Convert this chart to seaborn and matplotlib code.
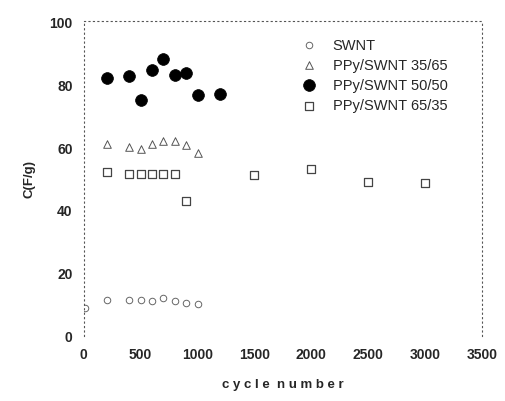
import pandas as pd
import matplotlib.pyplot as plt
import seaborn as sns

# ----------------------------
# Data
# ----------------------------
swnt_cycle = [10, 200, 400, 500, 600, 700, 800, 900, 1000]
swnt_cap = [9, 11.5, 11.5, 11.5, 11, 12, 11, 10.5, 10]

p3565_cycle = [200, 400, 500, 600, 700, 800, 900, 1000]
p3565_cap = [61, 60, 59.5, 61, 62, 62, 60.5, 58]

p5050_cycle = [200, 400, 500, 600, 700, 800, 900, 1000, 1200]
p5050_cap = [82, 82.5, 75, 84.5, 88, 83, 83.5, 76.5, 77]

p6535_cycle = [200, 400, 500, 600, 700, 800, 900, 1500, 2000, 2500, 3000]
p6535_cap = [52, 51.5, 51.5, 51.5, 51.5, 51.5, 43, 51, 53, 49, 48.5]

series = ["SWNT", "PPy/SWNT 35/65", "PPy/SWNT 50/50", "PPy/SWNT 65/35"]
x_ticks = [0, 500, 1000, 1500, 2000, 2500, 3000, 3500]
y_ticks = [0, 20, 40, 60, 80, 100]

frames = []
for name, xs, ys in zip(series,
                        [swnt_cycle, p3565_cycle, p5050_cycle, p6535_cycle],
                        [swnt_cap, p3565_cap, p5050_cap, p6535_cap]):
    frames.append(pd.DataFrame({"cycle": xs, "C": ys, "sample": name}))
df = pd.concat(frames, ignore_index=True)

sns.set_style("white")
plt.rcParams["font.family"] = ["Liberation Sans", "DejaVu Sans"]

fig, ax = plt.subplots(figsize=(5.05, 4.02), dpi=100)
fig.subplots_adjust(left=0.166, right=0.954, top=0.945, bottom=0.162)

styles = {
    "SWNT": dict(marker="o", s=22, facecolor="white", edgecolor="#666666", linewidth=0.7),
    "PPy/SWNT 35/65": dict(marker="^", s=30, facecolor="white", edgecolor="#555555", linewidth=0.7),
    "PPy/SWNT 50/50": dict(marker="o", s=72, facecolor="black", edgecolor="black", linewidth=0.5),
    "PPy/SWNT 65/35": dict(marker="s", s=30, facecolor="white", edgecolor="#444444", linewidth=0.9),
}

for name in series:
    sub = df[df["sample"] == name]
    sns.scatterplot(data=sub, x="cycle", y="C", ax=ax, label=name, **styles[name])

ax.set_xlim(0, 3500)
ax.set_ylim(0, 100)
ax.set_xticks(x_ticks)
ax.set_yticks(y_ticks)
ax.tick_params(length=0, labelsize=10, pad=8)
for lab in ax.get_xticklabels() + ax.get_yticklabels():
    lab.set_fontweight("bold")

ax.set_xlabel("c y c l e  n u m b e r", fontsize=9.5, fontweight="bold", labelpad=12)
ax.set_ylabel("C(F/g)", fontsize=9.5, fontweight="bold", labelpad=10)

for side in ["left", "right", "top"]:
    ax.spines[side].set_linestyle((0, (1, 3)))
    ax.spines[side].set_color("#555555")
    ax.spines[side].set_linewidth(0.8)
ax.spines["bottom"].set_visible(False)

leg = ax.legend(loc="upper left", bbox_to_anchor=(0.515, 0.965), frameon=False,
                fontsize=10.5, handletextpad=0.6, labelspacing=0.42, borderaxespad=0.0)

plt.savefig("out.png", dpi=100)
plt.close()
